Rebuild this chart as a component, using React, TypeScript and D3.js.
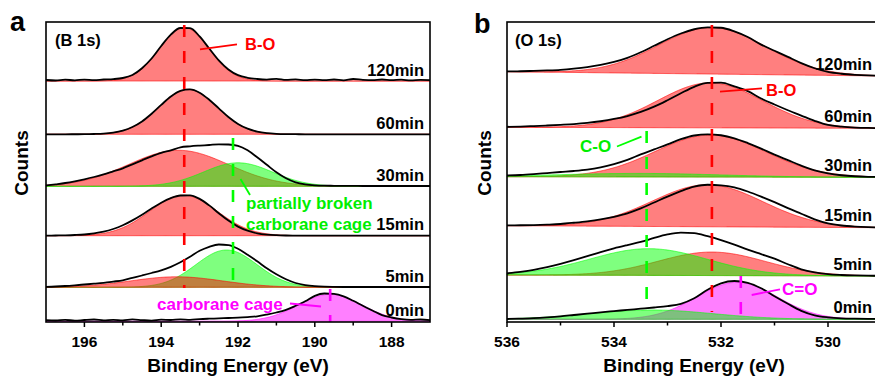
import React from "react";
import * as d3 from "d3";

// ---- data ----
const rowLabels = ["120min", "60min", "30min", "15min", "5min", "0min"];

// energy grids (eV), sampled every 0.25 eV
const energyB1s = d3.range(41).map((i) => 197 - i * 0.25);
const energyO1s = d3.range(29).map((i) => 536 - i * 0.25);

// B 1s raw spectra (counts above background), 197 -> 187 eV
const b1s120 = [1.0, 0.5, 1.3, 0.7, 1.4, 0.8, 1.5, 1.9, 3.0, 6.0, 12.8, 22.5, 35, 46.3, 53, 52.8, 44.6, 32.5, 20.6, 11.5, 5.8, 3.2, 2.0, 1.4, 2.2, 1.1, 1.6, 0.8, 1.3, 0.9, 1.5, 0.7, 2.0, 1.2, 0.8, 1.5, 0.9, 1.3, 0.6, 1.2, 0.9];
const b1s60 = [0, 0, 0, 0.05, 0.1, 0.3, 0.7, 1.7, 3.7, 7.3, 12.9, 20.6, 29.4, 37.8, 43.5, 44.9, 41.6, 34.6, 25.9, 17.3, 10.4, 5.6, 2.7, 1.2, 0.5, 0.2, 0.1, 0, 0, 0, 0, 0, 0, 0, 0, 0, 0, 0, 0, 0, 0];
const b1s30 = [0.8, 2, 3.3, 5, 7, 9.3, 12, 15, 18, 22, 26, 30, 33.5, 36, 39, 40, 40.7, 41.3, 42, 41.8, 40.5, 36, 29, 21.5, 14, 8, 4, 2, 1, 0.6, 0.5, 0.4, 0.4, 0.3, 0.3, 0.3, 0.3, 0.3, 0.3, 0.3, 0.3];
const b1s15 = [0, 0.2, 0.4, 0.7, 1.2, 2.3, 4.0, 6.7, 10.4, 15.3, 21.0, 27.2, 33.0, 37.6, 40.2, 40.4, 36.8, 30.3, 22.5, 15.1, 9.1, 5.0, 2.4, 1.1, 0.5, 0.2, 0.1, 0, 0, 0, 0, 0, 0, 0, 0, 0, 0, 0, 0, 0, 0];
const b1s5 = [0.5, 0.8, 1.3, 2, 2.8, 3.6, 4.5, 5.7, 7, 9.4, 11.8, 14.3, 17, 20.5, 25, 30.5, 36.5, 40.5, 42.8, 42.2, 38.5, 32.5, 26, 19, 13, 8, 4.3, 2.2, 1.1, 0.6, 0.4, 0.3, 0.3, 0.3, 0.3, 0.3, 0.3, 0.3, 0.3, 0.3, 0.3];
const b1s0 = [1.2, 0.8, 1.5, 0.6, 1.3, 1.8, 0.9, 1.4, 1.0, 1.9, 1.2, 0.7, 1.6, 1.3, 2.0, 1.5, 2.2, 2.6, 2.9, 3.3, 3.6, 4.2, 5.0, 6.7, 8.8, 11.5, 15.5, 20, 25.5, 27.8, 27.4, 25, 20.5, 15.5, 10.8, 6.2, 3.8, 2.2, 1.4, 1.8, 1.1];

// O 1s raw spectra, 536 -> 529 eV
const o1s120 = [0.3, 0.6, 1.1, 1.7, 2.5, 3.8, 5.5, 7.8, 11, 15.3, 21, 27.6, 34.3, 40.2, 44.6, 46.7, 46.4, 43, 37.5, 30, 24, 18, 12, 7, 3.5, 1.8, 0.9, 0.4, 0.2];
const o1s60 = [0.5, 0.8, 1.3, 1.9, 2.6, 3.4, 4.6, 6.3, 8.6, 11.6, 15.7, 21, 27.5, 34.5, 41, 45, 45.2, 41.5, 36.8, 29.5, 23.5, 17.8, 12.5, 7.3, 3.2, 1.6, 0.7, 0.3, 0.2];
const o1s30 = [1.2, 1.7, 2.6, 3.7, 4.8, 5.8, 7.2, 9.5, 12.8, 17, 22.5, 27.5, 32.5, 37.8, 41.5, 42.7, 41.8, 38.8, 34, 28.5, 22.5, 17, 11.5, 6.8, 3.8, 2, 1, 0.5, 0.3];
const o1s15 = [0.3, 0.5, 0.8, 1.3, 2.0, 3.3, 4.8, 6.8, 9.5, 13, 18, 24, 30, 35.5, 40, 42, 41.5, 39.5, 35.5, 30.5, 25, 19, 13.5, 8, 4, 2, 1, 0.5, 0.3];
const o1s5 = [1.7, 3.2, 5.2, 8, 11.3, 15, 19, 23.2, 27, 30.3, 33.4, 37.5, 41, 42.8, 42.3, 39.3, 35.5, 31, 26, 21.5, 17, 11.5, 6.5, 3.5, 1.7, 0.9, 0.5, 0.3, 0.2];
const o1s0 = [0.3, 0.7, 1.2, 2.0, 3.0, 4.3, 5.6, 7.0, 8.2, 9.4, 10.6, 11.8, 13.2, 15.5, 21, 29.5, 36, 38.3, 36.5, 31, 23, 15.5, 8.5, 4, 2, 1, 0.6, 0.4, 0.3];

// stack offsets (counts), left and right end of the linear background
const b1sOffsets = [241, 187.7, 135.7, 86.3, 34.7, 0.7];
const o1sOffsetsLeft = [250.3, 194.7, 145.3, 96.3, 47, 2.7];
const o1sOffsetsRight = [246, 193.7, 144.7, 94.3, 46, 2.7];

// fitted components (drawn in list order)
const b1sFits = [
  [{ kind: "BO", center: 193.4, fwhm: 1.51, height: 53.5 }],
  [{ kind: "BO", center: 193.3, fwhm: 1.79, height: 45 }],
  [{ kind: "BO", center: 193.55, fwhm: 3.06, height: 36 }, { kind: "broken", center: 192.0, fwhm: 2.12, height: 23.5 }],
  [{ kind: "BO", center: 193.42, fwhm: 2.07, height: 40.5 }],
  [{ kind: "broken", center: 192.3, fwhm: 1.88, height: 37.3 }, { kind: "BO", center: 193.6, fwhm: 2.83, height: 10.5 }],
  [{ kind: "cage", center: 189.6, fwhm: 1.95, height: 27 }],
];
const o1sFits = [
  [{ kind: "BO", center: 532.17, fwhm: 2.36, height: 46.5 }],
  [{ kind: "BO", center: 532.2, fwhm: 2.31, height: 45 }],
  [{ kind: "BO", center: 532.2, fwhm: 2.43, height: 42 }, { kind: "CO", center: 533.5, fwhm: 3.53, height: 3.5 }],
  [{ kind: "BO", center: 532.25, fwhm: 2.43, height: 42 }],
  [{ kind: "BO", center: 532.17, fwhm: 2.36, height: 23.5 }, { kind: "CO", center: 533.35, fwhm: 2.59, height: 26.7 }],
  [{ kind: "CdO", center: 531.7, fwhm: 1.77, height: 37 }, { kind: "CO", center: 533.3, fwhm: 2.71, height: 9.3 }],
];

// peak position markers (eV)
const b1sMarkers = { BO: 193.4, broken: 192.13, cage: 189.6 };
const o1sMarkers = { BO: 532.17, CO: 533.39, CdO: 531.63 };

const ticksB1s = [196, 194, 192, 190, 188];
const minorB1s = [195, 193, 191, 189];
const ticksO1s = [536, 534, 532, 530];
const minorO1s = [535, 533, 531];

// ---- layout ----
const W = 875;
const H = 376;
const TOP = 22;
const BOTTOM = 322;
const FONT = "Arial, 'Liberation Sans', Helvetica, sans-serif";
const RED = "#ff0000";
const GREEN = "#00ee00";
const MAGENTA = "#ff00ff";
const kindColor: Record<string, string> = {
  BO: "#ff0000",
  broken: "#00ff00",
  CO: "#00ff00",
  cage: "#ff00ff",
  CdO: "#ff00ff",
};

const yScale = d3.scaleLinear().domain([0, 300]).range([BOTTOM, TOP]);
const xA = d3.scaleLinear().domain([197, 187]).range([46, 430]);
const xB = d3.scaleLinear().domain([536, 529]).range([507, 881.5]);

function gauss(e: number, p: { center: number; fwhm: number; height: number }) {
  const s = p.fwhm / 2.3548;
  return p.height * Math.exp(-((e - p.center) ** 2) / (2 * s * s));
}

function Stack({ x, energies, rows, offL, offR, fits }: any) {
  const [d0, d1] = x.domain();
  const bg = (i: number, e: number) => offL[i] + ((offR[i] - offL[i]) * (e - d0)) / (d1 - d0);
  const fine = d3.range(401).map((k) => d0 + ((d1 - d0) * k) / 400);
  return (
    <g>
      {rows.map((row: number[], i: number) => {
        const line = d3
          .line<number>()
          .x((_, j) => x(energies[j]))
          .y((c, j) => yScale(bg(i, energies[j]) + c))
          .curve(d3.curveMonotoneX);
        return (
          <g key={i}>
            {fits[i].map((p: any, k: number) => {
              const area = d3
                .area<number>()
                .x((e) => x(e))
                .y0((e) => yScale(bg(i, e)))
                .y1((e) => yScale(bg(i, e) + gauss(e, p)));
              const col = kindColor[p.kind];
              return (
                <path key={k} d={area(fine) || ""} fill={col} fillOpacity={0.5} stroke={col} strokeOpacity={0.6} strokeWidth={1} />
              );
            })}
            <path d={line(row) || ""} fill="none" stroke="#000" strokeWidth={1.8} strokeLinejoin="round" />
          </g>
        );
      })}
    </g>
  );
}

function Axis({ x, major, minor, cx }: any) {
  const [r0, r1] = x.range();
  return (
    <g fontFamily={FONT} fontWeight="bold">
      <rect x={r0} y={TOP} width={r1 - r0} height={BOTTOM - TOP} fill="none" stroke="#000" strokeWidth={1.6} />
      {major.map((t: number) => (
        <g key={t}>
          <line x1={x(t)} x2={x(t)} y1={BOTTOM} y2={BOTTOM + 5} stroke="#000" strokeWidth={1.5} />
          <text x={x(t)} y={347} textAnchor="middle" fontSize={15.5}>
            {t}
          </text>
        </g>
      ))}
      {minor.map((t: number) => (
        <line key={t} x1={x(t)} x2={x(t)} y1={BOTTOM} y2={BOTTOM + 3.5} stroke="#000" strokeWidth={1.5} />
      ))}
      <text x={cx} y={372} textAnchor="middle" fontSize={19}>
        Binding Energy (eV)
      </text>
    </g>
  );
}

function Dash({ x, e, color, y1, y2 }: any) {
  return <line x1={x(e)} x2={x(e)} y1={y1} y2={y2} stroke={color} strokeWidth={2.6} strokeDasharray="12 14" />;
}

export default function App() {
  const rowsA = [b1s120, b1s60, b1s30, b1s15, b1s5, b1s0];
  const rowsB = [o1s120, o1s60, o1s30, o1s15, o1s5, o1s0];
  return (
    <svg width={W} height={H} style={{ position: "absolute", left: 0, top: 0, background: "#fff" }}>
      {/* panel a */}
      <Stack x={xA} energies={energyB1s} rows={rowsA} offL={b1sOffsets} offR={b1sOffsets} fits={b1sFits} />
      <Dash x={xA} e={b1sMarkers.BO} color={RED} y1={25} y2={288} />
      <Dash x={xA} e={b1sMarkers.broken} color="#00ff00" y1={138} y2={288} />
      <Dash x={xA} e={b1sMarkers.cage} color={MAGENTA} y1={289} y2={322} />
      <Axis x={xA} major={ticksB1s} minor={minorB1s} cx={238} />

      {/* panel b */}
      <Stack x={xB} energies={energyO1s} rows={rowsB} offL={o1sOffsetsLeft} offR={o1sOffsetsRight} fits={o1sFits} />
      <Dash x={xB} e={o1sMarkers.BO} color={RED} y1={25} y2={312} />
      <Dash x={xB} e={o1sMarkers.CO} color="#00ff00" y1={131} y2={309} />
      <Dash x={xB} e={o1sMarkers.CdO} color={MAGENTA} y1={276} y2={316} />
      <Axis x={xB} major={ticksO1s} minor={minorO1s} cx={694} />

      <g fontFamily={FONT} fontWeight="bold">
        {rowLabels.map((l, i) => (
          <text key={"a" + l} x={424} y={yScale(b1sOffsets[i]) - 5.5} textAnchor="end" fontSize={16.5}>
            {l}
          </text>
        ))}
        {rowLabels.map((l, i) => (
          <text key={"b" + l} x={872} y={yScale(o1sOffsetsRight[i]) - 6.5} textAnchor="end" fontSize={16.5}>
            {l}
          </text>
        ))}

        <text x={10} y={31} fontSize={27}>a</text>
        <text x={474} y={33} fontSize={27}>b</text>
        <text transform="translate(28,163) rotate(-90)" textAnchor="middle" fontSize={19}>Counts</text>
        <text transform="translate(491,163) rotate(-90)" textAnchor="middle" fontSize={19}>Counts</text>

        <text x={55} y={46} fontSize={16.5}>(B 1s)</text>
        <text x={515} y={46} fontSize={16.5}>(O 1s)</text>

        {/* panel a annotations */}
        <line x1={200} y1={49.3} x2={237} y2={44.3} stroke={RED} strokeWidth={1.8} />
        <text x={245} y={50} fontSize={16.5} fill={RED}>B-O</text>
        <line x1={240.5} y1={179} x2={250} y2={195} stroke="#00ff00" strokeWidth={1.8} />
        <text x={246} y={209} fontSize={17} fill={GREEN}>partially broken</text>
        <text x={246} y={230} fontSize={17} fill={GREEN}>carborane cage</text>
        <line x1={290} y1={303.5} x2={321} y2={306.5} stroke={MAGENTA} strokeWidth={1.8} />
        <text x={157} y={309.5} fontSize={17} fill={MAGENTA}>carborane cage</text>

        {/* panel b annotations */}
        <line x1={720} y1={91.7} x2={762} y2={88.3} stroke={RED} strokeWidth={1.8} />
        <text x={766} y={96} fontSize={16.5} fill={RED}>B-O</text>
        <line x1={617} y1={146.5} x2={641.5} y2={136.7} stroke="#00ff00" strokeWidth={1.8} />
        <text x={580} y={151.5} fontSize={17} fill={GREEN}>C-O</text>
        <line x1={751.7} y1={295} x2={780} y2={289.3} stroke={MAGENTA} strokeWidth={1.8} />
        <text x={782} y={295} fontSize={17} fill={MAGENTA}>C=O</text>
      </g>
    </svg>
  );
}
